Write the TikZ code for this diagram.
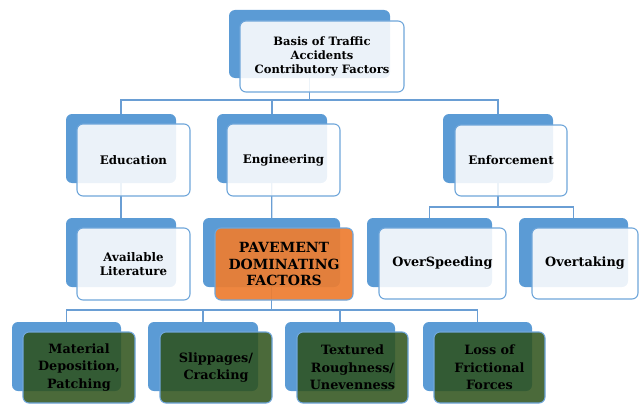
\documentclass[tikz,border=0pt]{standalone}
\usepackage{fontspec}
\setmainfont{DejaVu Serif}
\usetikzlibrary{backgrounds}

\definecolor{backblue}{HTML}{5B9BD5}
\definecolor{edgeblue}{HTML}{6FA6DA}
\definecolor{lineblue}{HTML}{6A9ED4}
\definecolor{pavorange}{HTML}{ED7D31}
\definecolor{leafgreen}{RGB}{44,80,24}

\tikzset{
  backbox/.style={fill=backblue, draw=none, rounded corners=6pt, inner sep=0pt},
  frontbox/.style={draw=edgeblue, line width=1.1pt, rounded corners=6pt,
    inner sep=0pt, align=center, text=black, text opacity=1},
  lightbox/.style={frontbox, fill=white, fill opacity=0.88,
    font=\fontsize{11.8}{14.5}\selectfont\bfseries},
  pavbox/.style={frontbox, fill=pavorange, fill opacity=0.93,
    font=\fontsize{14}{16.5}\selectfont\bfseries},
  leafbox/.style={frontbox, fill=leafgreen, fill opacity=0.85,
    font=\fontsize{12.8}{17.5}\selectfont\bfseries},
  conn/.style={draw=lineblue, line width=1.3pt}
}

\begin{document}
\begin{tikzpicture}[x=1pt, y=-1pt]
\useasboundingbox (0,0) rectangle (639,404);

% root
\node[backbox, minimum width=161pt, minimum height=68pt] (topB) at (309.5,44) {};
\node[lightbox, font=\fontsize{11.5}{14}\selectfont\bfseries,
  minimum width=164pt, minimum height=71pt] (top) at (322,56.5)
  {Basis of Traffic\\Accidents\\Contributory Factors};

% first level
\node[backbox, minimum width=110pt, minimum height=69pt] (eduB) at (121,148.5) {};
\node[lightbox, minimum width=113pt, minimum height=72pt] (edu) at (133.5,160) {Education};

\node[backbox, minimum width=110pt, minimum height=69pt] (engB) at (272,148.5) {};
\node[lightbox, minimum width=113pt, minimum height=72pt] (eng) at (283.5,160) {Engineering};

\node[backbox, minimum width=110pt, minimum height=69pt] (enfB) at (498,148.5) {};
\node[lightbox, minimum width=112pt, minimum height=71pt] (enf) at (511,160.5) {Enforcement};

% second level
\node[backbox, minimum width=110pt, minimum height=69pt] (litB) at (121,252.5) {};
\node[lightbox, minimum width=113pt, minimum height=72pt] (lit) at (133.5,264)
  {Available\\Literature};

\node[backbox, minimum width=137pt, minimum height=69pt] (pavB) at (271.5,252.5) {};
\node[pavbox, minimum width=138pt, minimum height=72pt] (pav) at (284,264)
  {PAVEMENT\\DOMINATING\\FACTORS};

\node[backbox, minimum width=125pt, minimum height=69pt] (spdB) at (429.5,252.5) {};
\node[lightbox, font=\fontsize{12.8}{15}\selectfont\bfseries,
  minimum width=127pt, minimum height=71pt] (spd) at (442.5,263.5) {OverSpeeding};

\node[backbox, minimum width=109pt, minimum height=69pt] (ovtB) at (573.5,252.5) {};
\node[lightbox, font=\fontsize{12.8}{15}\selectfont\bfseries,
  minimum width=106pt, minimum height=71pt] (ovt) at (585,263.5) {Overtaking};

% pavement factors
\node[backbox, minimum width=109pt, minimum height=69pt] (matB) at (66.5,356.5) {};
\node[leafbox, minimum width=112pt, minimum height=71pt] (mat) at (79,367.5)
  {Material\\Deposition,\\Patching};

\node[backbox, minimum width=110pt, minimum height=69pt] (slpB) at (203,356.5) {};
\node[leafbox, minimum width=112pt, minimum height=71pt] (slp) at (216,367.5)
  {Slippages/\\Cracking};

\node[backbox, minimum width=110pt, minimum height=69pt] (texB) at (340,356.5) {};
\node[leafbox, minimum width=111pt, minimum height=71pt] (tex) at (352.5,367.5)
  {Textured\\Roughness/\\Unevenness};

\node[backbox, minimum width=109pt, minimum height=69pt] (losB) at (477.5,356.5) {};
\node[leafbox, minimum width=111pt, minimum height=71pt] (los) at (489.5,367.5)
  {Loss of\\Frictional\\Forces};

% connectors behind the boxes
\begin{scope}[on background layer]
  \coordinate (bus1) at (0,100);
  \coordinate (bus2) at (0,207);
  \coordinate (bus3) at (0,310);
  \draw[conn] (topB.center) -- (topB.center |- bus1) -| (eduB.center);
  \draw[conn] (topB.center |- bus1) -| (engB.center);
  \draw[conn] (topB.center |- bus1) -| (enfB.center);
  \draw[conn] (eduB.center) -- (litB.center);
  \draw[conn] (engB.center) -- (pavB.center);
  \draw[conn] (enfB.center) -- (enfB.center |- bus2) -| (spdB.center);
  \draw[conn] (enfB.center |- bus2) -| (ovtB.center);
  \draw[conn] (pavB.center) -- (pavB.center |- bus3) -| (matB.center);
  \draw[conn] (pavB.center |- bus3) -| (slpB.center);
  \draw[conn] (pavB.center |- bus3) -| (texB.center);
  \draw[conn] (pavB.center |- bus3) -| (losB.center);
\end{scope}
\end{tikzpicture}
\end{document}
